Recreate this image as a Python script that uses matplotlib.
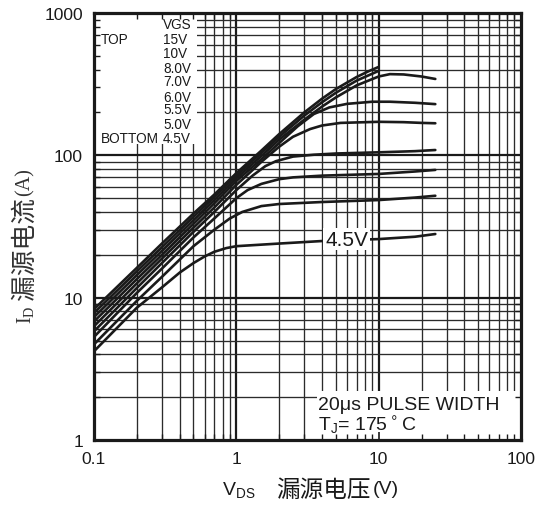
import matplotlib
matplotlib.use('Agg')
import matplotlib.pyplot as plt
from matplotlib.patches import Rectangle
from matplotlib.ticker import FixedLocator, FixedFormatter, NullFormatter

# Output characteristics, I_D vs V_DS, one curve per gate voltage (top to bottom)
vds_15 = [0.1, 0.2, 0.3, 0.5, 0.7, 1, 1.5, 2, 3, 4, 5, 7, 8.5, 10]
id_15 = [8.3, 16.2, 24, 39, 53, 75, 108, 141, 200, 250, 292, 355, 390, 418]

vds_10 = [0.1, 0.2, 0.3, 0.5, 0.7, 1, 1.5, 2, 3, 4, 5, 7, 8.5, 10]
id_10 = [7.8, 15.3, 22.6, 37, 51, 72, 104, 135, 190, 236, 275, 335, 365, 392]

vds_8 = [0.1, 0.2, 0.3, 0.5, 0.7, 1, 1.5, 2, 3, 4, 5, 7, 10, 12, 15, 20, 25]
id_8 = [7.3, 14.4, 21.3, 35, 48.5, 69, 99, 129, 178, 220, 255, 310, 358, 372, 370, 358, 344]

vds_7 = [0.1, 0.2, 0.3, 0.5, 0.7, 1, 1.5, 2, 2.7, 3.5, 4.5, 6, 9, 12, 18, 25]
id_7 = [6.8, 13.5, 20, 33, 46, 66, 94, 122, 160, 195, 217, 230, 238, 238, 234, 229]

vds_6 = [0.1, 0.2, 0.3, 0.5, 0.7, 1, 1.25, 1.5, 2, 2.5, 3.3, 4, 5.4, 10, 15, 20, 25]
id_6 = [6.3, 12.6, 18.8, 31, 43, 62, 76, 90, 115, 135, 153, 162, 169, 172, 171, 169, 168]

vds_55 = [0.1, 0.2, 0.3, 0.5, 0.7, 1, 1.3, 1.6, 1.9, 2.5, 3.5, 5, 10, 18, 25]
id_55 = [5.8, 11.7, 17.5, 29, 40, 57, 72, 84, 91, 98, 101, 103, 105, 107, 109]

vds_5 = [0.1, 0.2, 0.3, 0.5, 0.7, 1, 1.2, 1.5, 2, 2.5, 4, 10, 18, 25]
id_5 = [5.3, 10.8, 16, 26.5, 36, 50, 57, 63, 68, 70, 72, 74, 77, 79]

vds_48 = [0.1, 0.2, 0.3, 0.5, 0.7, 0.9, 1.1, 1.5, 2, 4, 10, 18, 25]
id_48 = [4.7, 9.5, 14, 23, 30, 36, 40, 44, 45.5, 47, 48.5, 50.5, 52]

vds_45 = [0.1, 0.2, 0.3, 0.4, 0.5, 0.6, 0.7, 0.85, 1, 2, 4, 10, 18, 25]
id_45 = [4.2, 8.5, 11.8, 15, 17.5, 19.5, 21, 22.3, 23, 24, 25, 25.8, 26.8, 28]

curves = [(vds_15, id_15), (vds_10, id_10), (vds_8, id_8), (vds_7, id_7),
          (vds_6, id_6), (vds_55, id_55), (vds_5, id_5), (vds_48, id_48),
          (vds_45, id_45)]

x_ticks = [0.1, 1, 10, 100]
x_labels = ['0.1', '1', '10', '100']
y_ticks = [1, 10, 100, 1000]
y_labels = ['1', '10', '100', '1000']

vgs_left = ['', 'TOP', '', '', '', '', '', '', 'BOTTOM']
vgs_right = ['VGS', '15V', '10V', '8.0V', '7.0V', '6.0V', '5.5V', '5.0V', '4.5V']
vgs_rows_px = [25, 40.5, 54, 69, 82, 97.5, 110.5, 125, 139]

W, H = 549, 506
INK = '#1a1a1a'
SANS = ['Liberation Sans', 'DejaVu Sans']
SERIF = ['Liberation Serif', 'DejaVu Serif']
CJK = ['Noto Sans CJK SC', 'DejaVu Sans']


def px(x, y):
    # pixel position (from top-left) -> figure fraction
    return x / W, 1 - y / H


fig = plt.figure(figsize=(W / 100, H / 100), dpi=100)
ax = fig.add_axes([94 / W, (H - 441) / H, 427 / W, 427 / H])
ax.set_xscale('log')
ax.set_yscale('log')
ax.set_xlim(0.1, 100)
ax.set_ylim(1, 1000)

# grid drawn by hand so the white boxes can hide it but not the ticks
for dec in [0.1, 1, 10]:
    for m in range(1, 10):
        v = dec * m
        if v <= 0.1:
            continue
        major = m == 1
        ax.axvline(v, color=INK if major else '#2b2b2b', lw=1.6 if major else 0.95, zorder=0.5)
for dec in [1, 10, 100]:
    for m in range(1, 10):
        v = dec * m
        if v <= 1:
            continue
        major = m == 1
        ax.axhline(v, color=INK if major else '#2b2b2b', lw=1.6 if major else 0.95, zorder=0.5)

for xs, ys in curves:
    ax.plot(xs, ys, color=INK, lw=1.9, solid_capstyle='round', zorder=3)

# white panels for the legend block and the test condition note
ax.add_patch(Rectangle((0, 0.693), 0.241, 0.307, transform=ax.transAxes,
                       facecolor='white', edgecolor='none', zorder=1))
ax.add_patch(Rectangle((0.522, 0.0), 0.478, 0.115, transform=ax.transAxes,
                       facecolor='white', edgecolor='none', zorder=1))

ax.xaxis.set_major_locator(FixedLocator(x_ticks))
ax.xaxis.set_major_formatter(FixedFormatter(x_labels))
ax.yaxis.set_major_locator(FixedLocator(y_ticks))
ax.yaxis.set_major_formatter(FixedFormatter(y_labels))
ax.xaxis.set_minor_formatter(NullFormatter())
ax.yaxis.set_minor_formatter(NullFormatter())
ax.tick_params(which='both', direction='in', top=True, right=True, color=INK,
               labelsize=12.5, labelcolor=INK, pad=8)
ax.tick_params(which='major', length=6, width=1.2)
ax.tick_params(which='minor', length=4, width=1.0)
for lab in ax.get_xticklabels() + ax.get_yticklabels():
    lab.set_family(SANS)
for sp in ax.spines.values():
    sp.set_linewidth(2.3)
    sp.set_color(INK)
    sp.set_zorder(4)

# VGS legend
for left, right, ypx in zip(vgs_left, vgs_right, vgs_rows_px):
    if left:
        fig.text(*px(101, ypx), left, ha='left', va='center', fontsize=9.8,
                 family=SANS, color=INK)
    fig.text(*px(163, ypx), right, ha='left', va='center', fontsize=9.8,
             family=SANS, color=INK)

ax.text(5.95, 25.8, '4.5V', ha='center', va='center', fontsize=15, family=SANS,
        color=INK, zorder=5,
        bbox=dict(boxstyle='square,pad=0.08', facecolor='white', edgecolor='none'))

fig.text(*px(318, 405), '20\u03bcs PULSE WIDTH', ha='left', va='center',
         fontsize=14, family=SANS, color=INK)
fig.text(*px(318, 426), r'T$_\mathregular{J}$= 175$^\circ$C', ha='left', va='center',
         fontsize=14, family=SANS, color=INK)

# axis titles
fig.text(*px(222, 490), r'$\mathregular{V_{DS}}$', ha='left', va='center',
         fontsize=14, family=SANS, color=INK)
fig.text(*px(276, 490), '漏源电压', ha='left', va='center', fontsize=17,
         family=CJK, color=INK)
fig.text(*px(373, 490), '(V)', ha='left', va='center', fontsize=14,
         family=SANS, color=INK)

fig.text(*px(26, 324), r'$\mathregular{I_D}$', ha='center', va='bottom',
         rotation=90, fontsize=14.5, family=SERIF, color='#333333')
fig.text(*px(25, 300), '漏源电流', ha='center', va='bottom', rotation=90,
         fontsize=18.5, family=CJK, color='#333333')
fig.text(*px(25, 196), '(A)', ha='center', va='bottom', rotation=90,
         fontsize=14.5, family=SERIF, color='#333333')

fig.savefig('out.png', dpi=100)
